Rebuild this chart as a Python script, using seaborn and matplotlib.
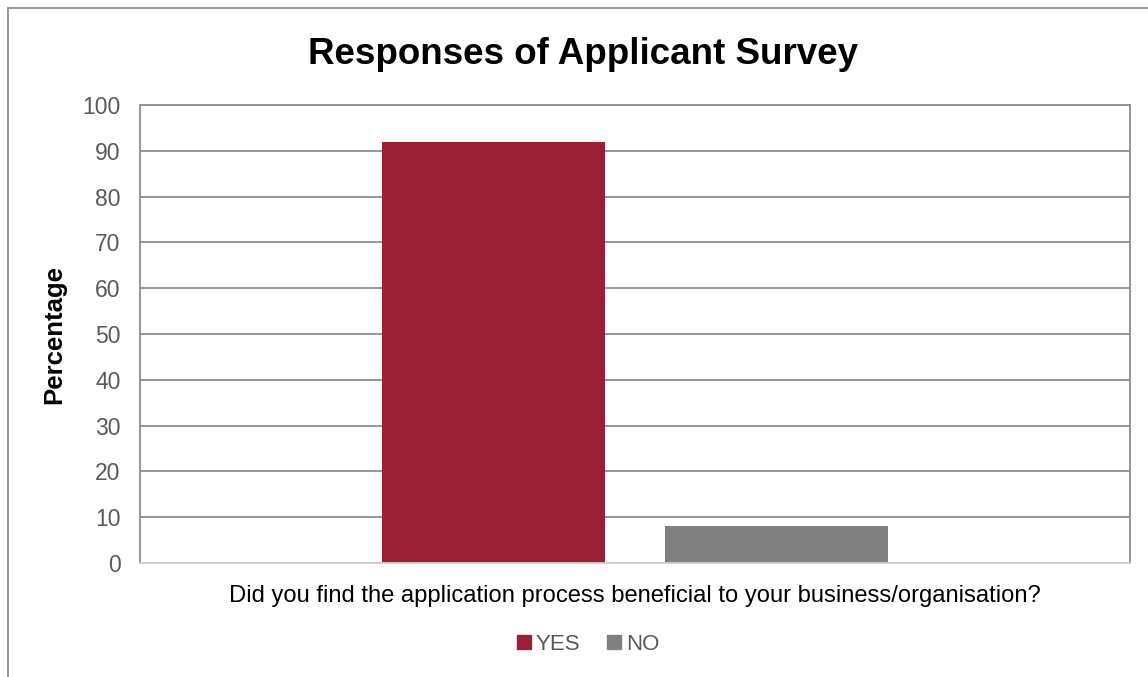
import matplotlib
matplotlib.use("Agg")
import matplotlib.pyplot as plt
import pandas as pd
import seaborn as sns
from matplotlib.lines import Line2D

# data
question = ["Did you find the application process beneficial to your business/organisation?"]
responses = ["YES", "NO"]
percentages = [92, 8]
colors = ["#9B2035", "#808080"]
y_ticks = list(range(0, 101, 10))

df = pd.DataFrame({
    "question": question * len(responses),
    "response": responses,
    "percentage": percentages,
})

sns.set_style("white")
plt.rcParams["font.family"] = ["Liberation Sans", "DejaVu Sans"]

fig = plt.figure(figsize=(11.48, 6.77), dpi=100)
ax = fig.add_axes([140 / 1148, 1 - 563 / 677, 990 / 1148, 458 / 677])

sns.barplot(
    data=df, x="question", y="percentage", hue="response",
    hue_order=responses, palette=dict(zip(responses, colors)),
    width=0.57, gap=0.21, saturation=1, linewidth=0, ax=ax, legend=False,
)

ax.set_ylim(0, 100)
ax.set_xlim(-0.5, 0.5)
ax.set_yticks(y_ticks)
ax.yaxis.grid(True, color="#8c8c8c", linewidth=1.3)
ax.set_axisbelow(True)
ax.tick_params(axis="y", labelsize=16.5, labelcolor="#595959", length=0, pad=14)
ax.tick_params(axis="x", labelsize=17.1, labelcolor="black", length=0, pad=16)
for side in ["left", "top", "right"]:
    ax.spines[side].set_color("#8c8c8c")
    ax.spines[side].set_linewidth(1.3)
ax.spines["bottom"].set_color("#d0d0d0")
ax.spines["bottom"].set_linewidth(1.3)

ax.set_xlabel("")
ax.set_ylabel("Percentage", fontsize=18.5, fontweight="bold", color="black")
ax.yaxis.set_label_coords((66 - 140) / 990, 0.5)
fig.text(583 / 1148, 1 - 55 / 677, "Responses of Applicant Survey",
         fontsize=26.5, fontweight="bold", ha="center", va="center", color="black")

handles = [Line2D([], [], marker="s", linestyle="", markersize=10,
                  markerfacecolor=c, markeredgecolor=c) for c in colors]
fig.legend(handles, responses, loc="center", bbox_to_anchor=(586 / 1148, 1 - 644 / 677),
           ncol=2, frameon=False, fontsize=16, handletextpad=0.05, columnspacing=1.0,
           labelcolor="#595959", handlelength=1.0)

# outer chart-area border (cut off at the right and bottom in the reference)
fig.add_artist(Line2D([8 / 1148, 8 / 1148], [0, 1 - 8 / 677], transform=fig.transFigure,
                      color="#8c8c8c", linewidth=1.3))
fig.add_artist(Line2D([8 / 1148, 1], [1 - 8 / 677, 1 - 8 / 677], transform=fig.transFigure,
                      color="#8c8c8c", linewidth=1.3))

fig.savefig("out.png", dpi=100)
